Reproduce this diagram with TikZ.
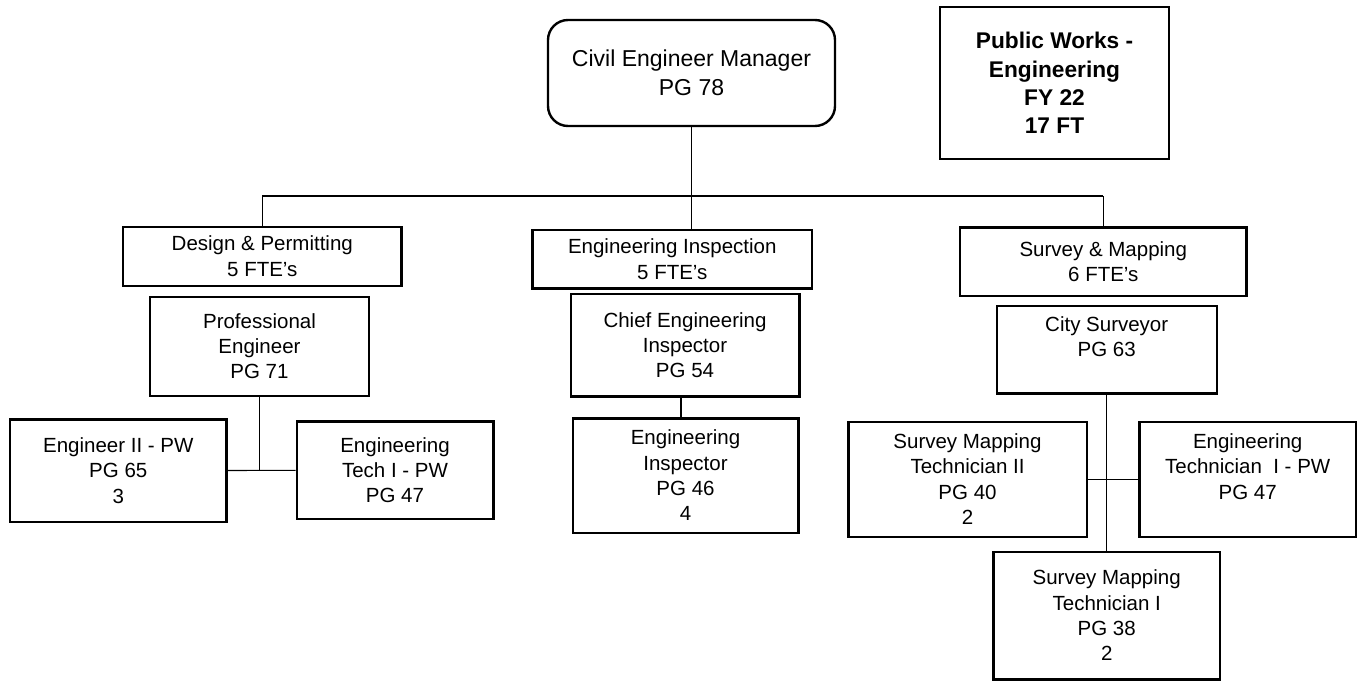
\documentclass[tikz,border=0pt]{standalone}
\usepackage{fontspec}
\setmainfont{Liberation Sans}
\usetikzlibrary{calc}
\begin{document}
\begin{tikzpicture}[x=1pt,y=-1pt,
  box/.style={draw=black,line width=2.4pt,rectangle,inner sep=0pt,align=center,
    font=\fontsize{20.5}{25.3}\selectfont},
  mgrbox/.style={box,rounded corners=20pt,font=\fontsize{23}{28.7}\selectfont},
  titlebox/.style={box,font=\fontsize{22.7}{28.3}\selectfont\bfseries},
  conn/.style={draw=black,line width=1.1pt}]
\useasboundingbox (0,0) rectangle (1357,680);
\fill[white] (0,0) rectangle (1357,680);

\node[mgrbox,minimum width=287pt,minimum height=106pt] (mgr) at (691.5,73) {Civil Engineer Manager\\PG 78};
\node[titlebox,minimum width=229pt,minimum height=152pt] (pw) at (1054.5,83) {Public Works -\\Engineering\\FY 22\\17 FT};

\node[box,minimum width=278.7pt,minimum height=59pt] (dp) at (262.3,256.2) {Design \& Permitting\\5 FTE’s};
\node[box,minimum width=219pt,minimum height=99pt] (pe) at (259.5,346.2) {Professional\\Engineer\\PG 71};
\node[box,minimum width=216.7pt,minimum height=102.4pt] (e2) at (118.3,470.5) {Engineer II - PW\\PG 65\\3};
\node[box,minimum width=196.6pt,minimum height=97.3pt] (et) at (395,470.3) {Engineering\\Tech I - PW\\PG 47};

\node[box,minimum width=279.3pt,minimum height=58.3pt] (ei) at (672.3,259.2) {Engineering Inspection\\5 FTE’s};
\node[box,minimum width=228.6pt,minimum height=102.7pt] (cei) at (685,345.3) {Chief Engineering\\Inspector\\PG 54};
\node[box,minimum width=225.6pt,minimum height=114.4pt] (insp) at (685.5,475.5) {Engineering\\Inspector\\PG 46\\4};

\node[box,minimum width=286.7pt,minimum height=68.7pt] (sm) at (1103.3,261.7) {Survey \& Mapping\\6 FTE’s};
\node[box,minimum width=220pt,minimum height=87.6pt] (cs) at (1106.7,349.5) {City Surveyor\\PG 63\\\mbox{}};
\node[box,minimum width=238.4pt,minimum height=115pt] (smt2) at (967.5,479.2) {Survey Mapping\\Technician II\\PG 40\\2};
\node[box,minimum width=216.7pt,minimum height=115pt] (etpw) at (1247.7,479.2) {Engineering\\Technician~~I - PW\\PG 47\\\mbox{}};
\node[box,minimum width=226.7pt,minimum height=127.6pt] (smt1) at (1106.7,615.5) {Survey Mapping\\Technician I\\PG 38\\2};

\coordinate (busL) at (262.3,196);
\coordinate (busR) at (1103.3,196);

\draw[conn] (mgr.south) -- (mgr.south |- ei.north);
\draw[conn] (busL) -- (busR);
\draw[conn] (busL) -- (dp.north);
\draw[conn] (busR) -- (sm.north);

\draw[conn] (pe.south) -- (pe.south |- e2.east);
\draw[conn] (e2.east) -- (et.west);

\draw[conn] ($(cei.south)+(-4,0)$) -- ($(cei.south |- insp.north)+(-4,0)$);

\draw[conn] (cs.south) -- (smt1.north);
\draw[conn] (smt2.east) -- (etpw.west);
\end{tikzpicture}
\end{document}
